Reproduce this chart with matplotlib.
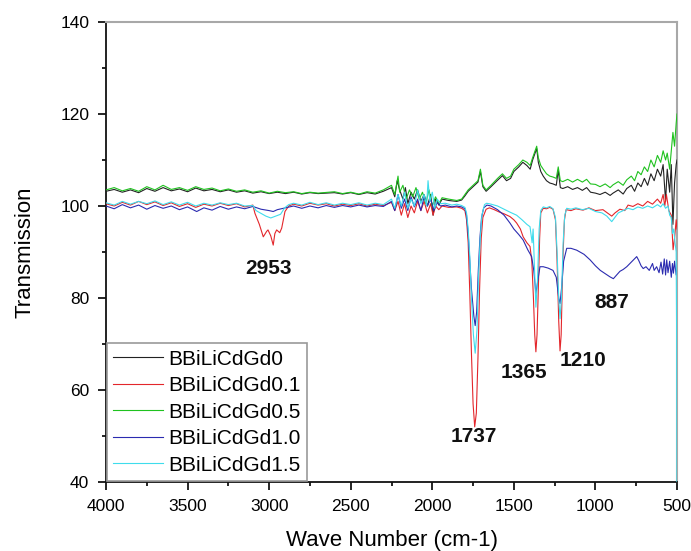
import matplotlib
matplotlib.use("Agg")
import matplotlib.pyplot as plt
from matplotlib.ticker import MultipleLocator

plt.rcParams['font.family'] = ['Liberation Sans', 'DejaVu Sans']

labels = ["BBiLiCdGd0", "BBiLiCdGd0.1", "BBiLiCdGd0.5", "BBiLiCdGd1.0", "BBiLiCdGd1.5"]
colors = ["#222222", "#e3262b", "#1fc21f", "#2b2bb0", "#3fdcec"]

# BBiLiCdGd0 (black)
wn_0 = [4000, 3950, 3900, 3850, 3800, 3750, 3700, 3650, 3600, 3550, 3500, 3450, 3400, 3350, 3300, 3250,
        3200, 3150, 3100, 3050, 3000, 2950, 2900, 2850, 2800, 2750, 2700, 2600, 2550, 2500, 2450, 2400,
        2350, 2300, 2250, 2230, 2215, 2200, 2180, 2165, 2150, 2130, 2110, 2090, 2070, 2050, 2030, 2010,
        1995, 1980, 1960, 1940, 1900, 1850, 1820, 1800, 1780, 1750, 1720, 1705, 1690, 1670, 1640, 1600,
        1570, 1545, 1520, 1500, 1470, 1445, 1420, 1400, 1385, 1370, 1360, 1350, 1335, 1320, 1300, 1280,
        1260, 1240, 1228, 1215, 1200, 1170, 1140, 1110, 1080, 1054, 1030, 1000, 972, 940, 910, 892,
        860, 830, 808, 780, 760, 740, 720, 700, 680, 660, 640, 620, 600, 585, 570, 560, 545, 535, 525,
        515, 505, 500]
t_0 = [103.2, 103.6, 103.0, 103.5, 102.9, 103.8, 103.2, 104.0, 103.3, 103.7, 103.1, 103.9, 103.3, 103.6,
       103.1, 103.5, 103.0, 103.3, 102.8, 103.1, 102.7, 103.0, 102.7, 103.0, 102.6, 102.9, 102.7, 102.9,
       102.6, 102.9, 102.5, 102.9, 102.6, 103.2, 104.0, 102.0, 105.5, 103.5, 101.5, 104.0, 100.5, 103.0,
       101.5, 103.5, 101.0, 102.5, 100.0, 102.5, 98.0, 101.5, 100.2, 101.5, 101.2, 101.0, 101.3, 102.2,
       103.2, 104.2, 105.2, 107.5, 104.2, 103.2, 104.2, 105.6, 106.6, 105.5, 106.0, 107.5, 108.5, 109.5,
       108.8, 108.0, 110.0, 111.5, 112.5, 109.5, 107.5, 106.5, 105.5, 105.0, 104.8, 104.5, 107.8, 104.0,
       103.8, 104.2, 103.6, 104.0, 103.4, 104.0, 103.0, 102.8, 102.5, 103.0, 102.3, 102.8, 103.5, 102.6,
       103.8, 104.5, 103.2, 105.0, 104.2, 106.0, 104.5, 107.0, 105.5, 108.0, 106.5, 109.0, 101.0, 108.0,
       103.0, 109.0, 96.0, 105.0, 109.0, 110.0]

# BBiLiCdGd0.1 (red)
wn_01 = [4000, 3950, 3900, 3850, 3800, 3750, 3700, 3650, 3600, 3550, 3500, 3450, 3400, 3350, 3300, 3250,
         3200, 3150, 3100, 3087, 3060, 3036, 3015, 3007, 2990, 2975, 2965, 2954, 2935, 2923, 2903, 2880,
         2850, 2800, 2750, 2700, 2650, 2600, 2550, 2500, 2450, 2400, 2350, 2300, 2250, 2230, 2210, 2190,
         2170, 2150, 2130, 2110, 2090, 2070, 2050, 2030, 2010, 1995, 1980, 1960, 1940, 1900, 1850, 1820,
         1800, 1790, 1780, 1770, 1760, 1750, 1740, 1730, 1720, 1710, 1700, 1690, 1670, 1650, 1620, 1590,
         1560, 1524, 1500, 1483, 1460, 1443, 1420, 1401, 1390, 1380, 1372, 1365, 1358, 1350, 1342, 1335,
         1320, 1300, 1280, 1260, 1245, 1235, 1225, 1217, 1210, 1200, 1190, 1180, 1150, 1120, 1076, 1040,
         1000, 954, 920, 900, 880, 850, 820, 800, 770, 740, 710, 680, 650, 620, 600, 585, 575, 565, 550,
         535, 524, 515, 505, 500]
t_01 = [100.5, 100.0, 100.8, 100.2, 101.0, 100.3, 100.9, 100.1, 100.7, 99.9, 100.5, 99.7, 100.4, 100.0,
        100.6, 100.1, 100.5, 99.8, 100.2, 98.4, 96.0, 93.3, 94.5, 94.8, 93.5, 91.5, 94.0, 94.8, 94.2, 95.2,
        98.8, 100.0, 100.4, 100.0, 100.6, 100.2, 100.5, 100.0, 100.4, 100.1, 100.5, 100.0, 100.4, 100.1,
        100.8, 99.0, 101.0, 98.0, 100.5, 97.5, 100.0, 98.5, 101.0, 99.0, 101.0, 98.5, 100.5, 98.0, 100.0,
        99.2, 100.0, 99.7, 99.8, 99.5, 99.0, 97.0, 92.0, 81.0, 68.0, 57.0, 52.0, 55.0, 67.0, 82.0, 93.0,
        97.5, 99.3, 99.6, 99.2, 98.7, 98.3, 97.7, 97.0, 96.3, 95.0, 93.3, 92.0, 91.2, 88.0, 80.0, 72.0,
        68.3, 72.0, 82.0, 93.0, 98.5, 99.5, 99.4, 99.7, 99.3, 97.0, 88.0, 75.0, 68.5, 72.0, 88.0, 97.0,
        99.2, 99.0, 99.4, 99.1, 99.6, 99.0, 99.2, 98.3, 97.8, 98.5, 99.3, 99.0, 100.2, 99.9, 100.5, 100.0,
        101.0, 100.4, 101.5, 100.6, 102.5, 100.0, 102.5, 99.0, 98.0, 90.5, 93.0, 97.0, 95.0]

# BBiLiCdGd0.5 (green)
wn_05 = [4000, 3950, 3900, 3850, 3800, 3750, 3700, 3650, 3600, 3550, 3500, 3450, 3400, 3350, 3300, 3250,
         3200, 3150, 3100, 3050, 3000, 2950, 2900, 2850, 2800, 2750, 2700, 2600, 2550, 2500, 2450, 2400,
         2350, 2300, 2250, 2230, 2210, 2200, 2180, 2160, 2140, 2120, 2100, 2080, 2060, 2040, 2020, 2000,
         1980, 1960, 1940, 1900, 1850, 1820, 1800, 1780, 1750, 1720, 1705, 1690, 1670, 1640, 1600, 1570,
         1545, 1520, 1500, 1470, 1445, 1420, 1400, 1385, 1370, 1360, 1350, 1335, 1320, 1300, 1280, 1260,
         1240, 1228, 1215, 1200, 1170, 1140, 1110, 1080, 1054, 1030, 1000, 972, 940, 910, 892, 860, 830,
         808, 780, 760, 740, 720, 700, 680, 660, 640, 620, 600, 585, 570, 560, 545, 535, 525, 515, 505, 500]
t_05 = [103.5, 104.0, 103.3, 103.8, 103.2, 104.2, 103.5, 104.5, 103.6, 104.0, 103.4, 104.2, 103.6, 103.9,
        103.3, 103.7, 103.2, 103.5, 103.0, 103.3, 102.8, 103.2, 102.9, 103.1, 102.7, 103.0, 102.8, 103.1,
        102.7, 103.0, 102.6, 103.1, 102.8, 103.5, 104.5, 102.5, 106.5, 103.0, 104.5, 101.5, 103.5, 102.0,
        104.0, 101.5, 103.0, 100.5, 103.5, 100.0, 102.0, 100.5, 101.8, 101.5, 101.2, 101.5, 102.5, 103.5,
        104.5, 105.5, 108.0, 104.5, 103.5, 104.5, 106.0, 107.0, 106.0, 106.5, 108.0, 109.0, 110.0, 109.5,
        108.8, 110.5, 112.0, 113.0, 110.5, 108.8, 108.0, 107.0, 106.5, 106.3, 106.0, 108.5, 105.5, 105.3,
        105.8, 105.2, 105.8, 105.2, 105.8, 104.8, 104.7, 104.2, 104.8, 104.0, 104.6, 105.3, 104.5, 105.7,
        106.5, 105.5, 107.5, 106.8, 108.5, 107.5, 110.0, 108.5, 111.0, 109.5, 112.0, 110.0, 111.5, 108.0,
        112.0, 116.0, 113.0, 118.0, 120.0]

# BBiLiCdGd1.0 (blue)
wn_10 = [4000, 3950, 3900, 3850, 3800, 3750, 3700, 3650, 3600, 3550, 3500, 3444, 3400, 3350, 3300, 3250,
         3200, 3150, 3100, 3050, 3000, 2975, 2950, 2900, 2850, 2800, 2750, 2700, 2650, 2600, 2550, 2500,
         2450, 2400, 2350, 2300, 2250, 2230, 2210, 2190, 2170, 2150, 2130, 2110, 2090, 2070, 2050, 2030,
         2010, 1990, 1970, 1950, 1920, 1880, 1850, 1820, 1800, 1790, 1780, 1770, 1760, 1745, 1737, 1728,
         1718, 1708, 1698, 1685, 1665, 1640, 1600, 1560, 1524, 1500, 1470, 1443, 1415, 1391, 1378, 1365,
         1352, 1340, 1320, 1290, 1260, 1240, 1225, 1217, 1208, 1195, 1176, 1150, 1115, 1070, 1033, 1000,
         970, 940, 911, 890, 870, 850, 830, 808, 780, 760, 747, 735, 720, 707, 690, 670, 650, 640, 625,
         610, 598, 588, 578, 570, 563, 555, 545, 535, 528, 522, 515, 505, 500]
t_10 = [100.0, 99.4, 100.3, 99.6, 100.2, 99.3, 100.1, 99.5, 100.0, 99.2, 99.8, 98.8, 99.6, 99.1, 99.9, 99.3,
        99.8, 99.4, 99.9, 99.3, 99.0, 98.8, 99.2, 99.6, 100.0, 99.5, 100.0, 99.6, 100.1, 99.7, 100.1, 99.8,
        100.2, 99.8, 100.1, 99.9, 101.0, 99.0, 102.5, 99.5, 101.5, 99.0, 102.0, 99.8, 101.5, 99.0, 102.0,
        100.0, 101.5, 99.0, 100.8, 100.0, 100.2, 99.8, 100.0, 99.8, 99.4, 98.0, 94.0, 88.0, 82.0, 76.0,
        74.0, 77.0, 86.0, 93.0, 97.5, 99.6, 100.2, 100.0, 99.2, 98.0, 96.3, 95.0, 93.8, 92.6, 90.5, 89.0,
        86.0, 81.0, 84.0, 86.8, 86.8, 86.5, 86.0, 84.5, 80.0, 78.8, 82.0, 88.0, 90.8, 90.8, 90.4, 89.5,
        88.3, 87.0, 86.0, 85.3, 84.6, 84.2, 85.0, 85.8, 86.2, 86.8, 87.8, 88.5, 89.0, 88.2, 87.0, 86.4,
        86.8, 86.0, 87.5, 86.0, 86.8, 85.5, 87.8, 85.2, 88.5, 85.0, 88.3, 85.5, 88.0, 84.5, 87.5, 85.4,
        88.0, 85.0, 86.0]

# BBiLiCdGd1.5 (cyan)
wn_15 = [4000, 3950, 3900, 3850, 3800, 3750, 3700, 3650, 3600, 3550, 3500, 3450, 3400, 3350, 3300, 3250,
         3200, 3150, 3100, 3080, 3050, 3020, 2990, 2960, 2930, 2905, 2880, 2850, 2800, 2750, 2700, 2650,
         2600, 2550, 2500, 2450, 2400, 2350, 2300, 2250, 2230, 2210, 2190, 2170, 2150, 2130, 2110, 2090,
         2070, 2050, 2035, 2026, 2015, 2000, 1985, 1970, 1950, 1920, 1880, 1850, 1820, 1800, 1790, 1780,
         1770, 1760, 1748, 1737, 1726, 1716, 1706, 1696, 1680, 1667, 1640, 1600, 1560, 1520, 1483, 1450,
         1420, 1401, 1388, 1382, 1375, 1365, 1355, 1345, 1335, 1320, 1300, 1280, 1260, 1245, 1235, 1225,
         1217, 1208, 1198, 1188, 1176, 1150, 1120, 1080, 1040, 1000, 960, 930, 910, 900, 885, 860, 830,
         800, 770, 740, 710, 680, 650, 620, 600, 585, 570, 555, 545, 535, 528, 520, 512, 505, 502, 500]
t_15 = [100.7, 100.2, 101.0, 100.4, 101.0, 100.5, 101.1, 100.3, 100.9, 100.2, 100.8, 100.0, 100.6, 100.2,
        100.7, 100.3, 100.6, 100.0, 100.1, 99.0, 98.4, 97.8, 97.4, 97.8, 98.2, 99.6, 100.3, 100.6, 100.2,
        100.8, 100.3, 100.7, 100.2, 100.6, 100.3, 100.7, 100.2, 100.6, 100.3, 101.5, 99.5, 102.5, 100.0,
        103.0, 99.5, 101.5, 100.0, 103.5, 100.5, 102.5, 100.0, 105.5, 101.0, 103.0, 99.5, 101.5, 100.5,
        100.6, 100.2, 100.4, 100.1, 99.7, 98.5, 95.0, 89.0, 80.0, 72.0, 68.0, 73.0, 85.0, 93.0, 98.0,
        100.3, 100.6, 100.4, 100.0, 99.3, 98.6, 98.0, 97.0, 96.0, 95.5, 92.0, 95.0, 88.0, 78.0, 84.0, 95.0,
        99.0, 99.8, 99.6, 99.9, 99.4, 97.5, 90.0, 80.0, 75.5, 80.0, 92.0, 98.0, 99.5, 99.3, 99.6, 99.2,
        99.5, 98.8, 98.5, 97.8, 97.0, 96.6, 97.3, 98.5, 99.0, 99.5, 99.2, 99.8, 99.5, 100.0, 99.6, 100.3,
        99.8, 100.5, 99.5, 100.0, 98.0, 97.5, 94.0, 95.0, 92.0, 90.0, 70.0, 38.0]

series_wn = [wn_0, wn_01, wn_05, wn_10, wn_15]
series_t = [t_0, t_01, t_05, t_10, t_15]

peak_labels = ["2953", "1737", "1365", "1210", "887"]
peak_label_x = [3007, 1744, 1438, 1076, 898]
peak_label_y = [86.5, 49.8, 63.7, 66.5, 79.1]

fig = plt.figure(figsize=(6.91, 5.51), dpi=100)
ax = fig.add_axes([106 / 691, 1 - 482 / 551, (677 - 106) / 691, (482 - 22) / 551])

for wn, t, lab, c in zip(series_wn, series_t, labels, colors):
    ax.plot(wn, t, color=c, lw=0.8, label=lab, zorder=3)

for txt, x, y in zip(peak_labels, peak_label_x, peak_label_y):
    ax.text(x, y, txt, fontsize=15, fontweight='bold', ha='center', va='center', color='#111111')

ax.set_xlim(4000, 500)
ax.set_ylim(40, 140)
ax.xaxis.set_major_locator(MultipleLocator(500))
ax.xaxis.set_minor_locator(MultipleLocator(250))
ax.yaxis.set_major_locator(MultipleLocator(20))
ax.yaxis.set_minor_locator(MultipleLocator(10))
ax.tick_params(which='major', direction='out', length=6, width=1.2, labelsize=12.5, pad=6)
ax.tick_params(which='minor', direction='out', length=3, width=1.2)
ax.tick_params(top=False, right=False)

for s in ['left', 'bottom']:
    ax.spines[s].set_linewidth(1.3)
    ax.spines[s].set_color('#111111')
for s in ['top', 'right']:
    ax.spines[s].set_linewidth(1.5)
    ax.spines[s].set_color('#a8a8a8')

ax.set_xlabel("Wave Number (cm-1)", fontsize=16, labelpad=12)
ax.set_ylabel("Transmission", fontsize=16, labelpad=18)

leg = ax.legend(loc='lower left', bbox_to_anchor=(0, 0), borderaxespad=0.05, fontsize=15,
                handlelength=2.4, handletextpad=0.25, labelspacing=0.36, borderpad=0.3,
                fancybox=False, framealpha=1)
leg.get_frame().set_edgecolor('#999999')
leg.get_frame().set_linewidth(1.2)
leg.set_zorder(5)

fig.savefig("out.png", dpi=100)
